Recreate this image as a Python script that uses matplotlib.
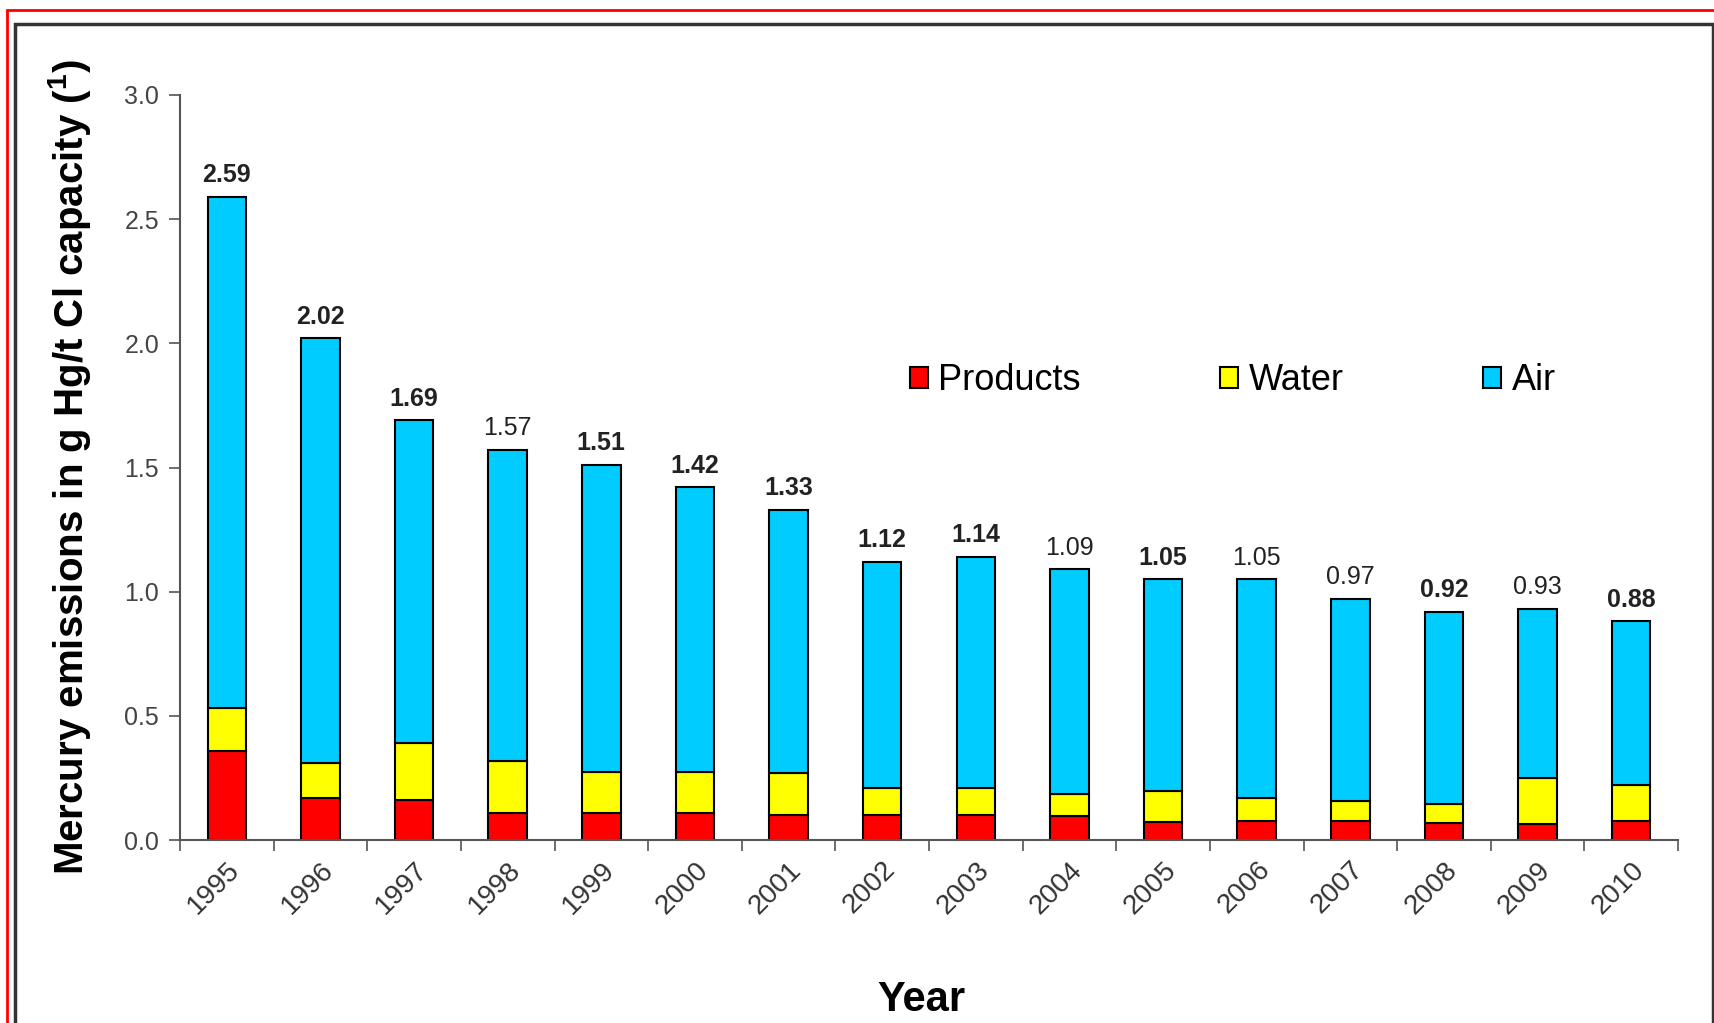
import matplotlib.pyplot as plt
import numpy as np
from matplotlib.patches import Rectangle

# data
years = [str(y) for y in range(1995, 2011)]
totals = [2.59, 2.02, 1.69, 1.57, 1.51, 1.42, 1.33, 1.12, 1.14, 1.09, 1.05, 1.05, 0.97, 0.92, 0.93, 0.88]
products = [0.36, 0.17, 0.16, 0.11, 0.11, 0.11, 0.10, 0.10, 0.10, 0.095, 0.072, 0.075, 0.075, 0.067, 0.064, 0.075]
water = [0.17, 0.14, 0.23, 0.21, 0.165, 0.165, 0.17, 0.11, 0.11, 0.09, 0.125, 0.095, 0.083, 0.078, 0.186, 0.148]
air = [t - p - w for t, p, w in zip(totals, products, water)]
label_bold = [True, True, True, False, True, True, True, True, True, False, True, False, False, True, False, True]


def main():
    plt.rcParams['font.family'] = ['Liberation Sans', 'DejaVu Sans']
    fig = plt.figure(figsize=(17.14, 10.23), dpi=100)
    W, H = 1714.0, 1023.0
    ax = fig.add_axes([180 / W, 1 - 840 / H, 1498 / W, 745 / H])

    x = np.arange(len(years))
    bw = 0.41
    edge = dict(edgecolor='black', linewidth=1.5)
    b1 = ax.bar(x, products, bw, color='#FF0000', label='Products', **edge)
    bot = np.array(products)
    b2 = ax.bar(x, water, bw, bottom=bot, color='#FFFF00', label='Water', **edge)
    bot = bot + np.array(water)
    b3 = ax.bar(x, air, bw, bottom=bot, color='#00CCFF', label='Air', **edge)

    for xi, t, b in zip(x, totals, label_bold):
        ax.annotate('%.2f' % t, (xi, t), xytext=(0, 7), textcoords='offset points',
                    ha='center', va='bottom', fontsize=18,
                    fontweight='bold' if b else 'normal', color='#222222')

    ax.set_xlim(-0.5, len(years) - 0.5)
    ax.set_ylim(0, 3.0)
    ax.set_yticks(np.arange(0, 3.01, 0.5))
    ax.set_yticklabels(['%.1f' % v for v in np.arange(0, 3.01, 0.5)])
    ax.set_xticks(np.arange(-0.5, len(years), 1.0))
    ax.set_xticklabels([])
    ax.set_xticks(x, minor=True)
    ax.set_xticklabels(years, minor=True, rotation=45, ha='right', va='top',
                       rotation_mode='anchor')
    ax.tick_params(axis='x', which='minor', length=0, pad=12, labelsize=20, labelcolor='#333333')
    ax.tick_params(axis='x', which='major', length=8, width=1.2, color='#555555')
    ax.tick_params(axis='y', length=8, width=1.2, color='#555555', labelsize=18,
                   labelcolor='#444444', pad=7)

    for s in ['top', 'right']:
        ax.spines[s].set_visible(False)
    for s in ['left', 'bottom']:
        ax.spines[s].set_color('#555555')
        ax.spines[s].set_linewidth(1.5)

    ax.set_ylabel('Mercury emissions in g Hg/t Cl capacity ($\\mathregular{^1}$)',
                  fontsize=29, fontweight='bold')
    ax.yaxis.set_label_coords(-0.058, 0.5)
    ax.set_xlabel('Year', fontsize=30, fontweight='bold')
    ax.xaxis.set_label_coords(0.495, -0.188)

    fig.legend(handles=[b1, b2, b3], loc='center left',
               bbox_to_anchor=(877 / W, 1 - 381 / H), ncol=3, frameon=False,
               fontsize=26, handlelength=0.5, handleheight=0.5,
               handletextpad=0.3, columnspacing=3.85)

    # picture frame: red outer line and dark inner line
    fig.patches.append(Rectangle((7 / W, -0.1), 1.2, 1 - 10 / H + 0.1, transform=fig.transFigure,
                                 fill=False, edgecolor='#FF0000', linewidth=2))
    fig.patches.append(Rectangle((15 / W, -0.1), (1713 - 15) / W, 1 - 24 / H + 0.1,
                                 transform=fig.transFigure, fill=False,
                                 edgecolor='#333333', linewidth=2.5))

    plt.savefig('out.png', dpi=100)
    plt.close()


if __name__ == "__main__":
    main()
